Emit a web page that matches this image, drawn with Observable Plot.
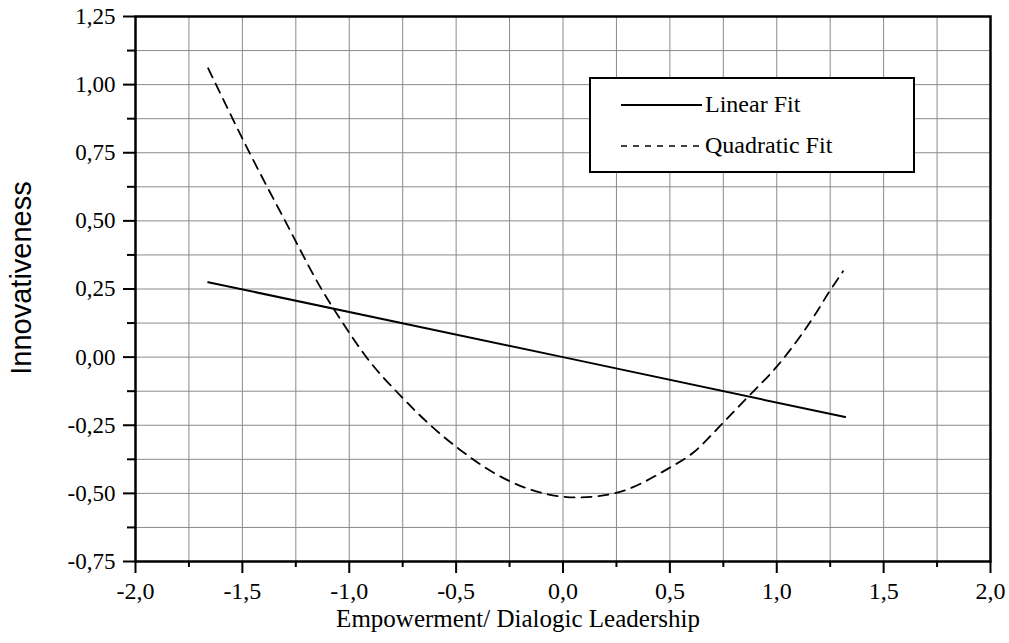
<!DOCTYPE html>
<html>
<head>
<meta charset="utf-8">
<script src="https://cdn.jsdelivr.net/npm/d3@7"></script>
<script src="https://cdn.jsdelivr.net/npm/@observablehq/plot@0.6"></script>
<style>
  body { margin: 0; background: #fff; }
  #wrap { position: relative; width: 1009px; height: 643px; overflow: hidden; }
  #wrap svg text { font-family: "Liberation Serif", serif !important; font-variant-numeric: normal !important; }
  .lbl { position: absolute; white-space: nowrap; color: #000; }
</style>
</head>
<body>
<div id="wrap"></div>
<script>
// ---- data ----
const xMajorTicks = [-2, -1.5, -1, -0.5, 0, 0.5, 1, 1.5, 2];
const xMinorTicks = [-1.75, -1.25, -0.75, -0.25, 0.25, 0.75, 1.25, 1.75];
const yMajorTicks = [-0.75, -0.5, -0.25, 0, 0.25, 0.5, 0.75, 1, 1.25];
const yMinorTicks = [-0.625, -0.375, -0.125, 0.125, 0.375, 0.625, 0.875, 1.125];
const xGridLines = [-1.75, -1.5, -1.25, -1, -0.75, -0.5, -0.25, 0, 0.25, 0.5, 0.75, 1, 1.25, 1.5, 1.75];
const yGridLines = [-0.625, -0.5, -0.375, -0.25, -0.125, 0, 0.125, 0.25, 0.375, 0.5, 0.625, 0.75, 0.875, 1, 1.125];

const linearX = [-1.66, 0, 1.32];
const linearY = [0.275, 0, -0.22];

const quadX = [-1.66, -1.46, -1.30, -1.13, -1.03, -0.92, -0.75, -0.62, -0.49, -0.25, -0.09, 0.07, 0.24, 0.49, 0.61, 0.75, 0.86, 1.00, 1.17, 1.25, 1.31];
const quadY = [1.06, 0.74, 0.50, 0.25, 0.125, 0.00, -0.15, -0.25, -0.335, -0.455, -0.50, -0.515, -0.50, -0.41, -0.35, -0.24, -0.15, -0.035, 0.145, 0.245, 0.315];

const xLabel = "Empowerment/ Dialogic Leadership";
const yLabel = "Innovativeness";
const seriesNames = ["Linear Fit", "Quadratic Fit"];

// ---- build ----
const linear = linearX.map((x, i) => ({x, y: linearY[i]}));
const quad = quadX.map((x, i) => ({x, y: quadY[i]}));
const fmtX = d => d.toFixed(1).replace(".", ",");
const fmtY = d => d.toFixed(2).replace(".", ",");
const serif = "Liberation Serif";

const chart = Plot.plot({
  width: 1009,
  height: 643,
  marginLeft: 135,
  marginRight: 19,
  marginTop: 16,
  marginBottom: 82,
  x: {domain: [-2, 2], label: null},
  y: {domain: [-0.75, 1.25], label: null},
  style: {fontFamily: serif, fontSize: "24px", background: "#fff", color: "#000"},
  marks: [
    Plot.gridX(xGridLines, {stroke: "#8a8a8a", strokeOpacity: 1, strokeWidth: 1}),
    Plot.gridY(yGridLines, {stroke: "#8a8a8a", strokeOpacity: 1, strokeWidth: 1}),
    Plot.axisX({ticks: xMinorTicks, tickSize: 6, tickFormat: () => "", strokeWidth: 2}),
    Plot.axisX({ticks: xMajorTicks, tickSize: 12, tickPadding: 8, tickFormat: fmtX, fontSize: 24, fontFamily: serif, fontVariant: "normal", strokeWidth: 2, label: null}),
    Plot.axisY({ticks: yMinorTicks, tickSize: 8, tickFormat: () => "", strokeWidth: 2}),
    Plot.axisY({ticks: yMajorTicks, tickSize: 12, tickPadding: 8, tickFormat: fmtY, fontSize: 23, fontFamily: serif, fontVariant: "normal", strokeWidth: 2, label: null}),
    Plot.line(linear, {x: "x", y: "y", stroke: "#000", strokeWidth: 2}),
    Plot.line(quad, {x: "x", y: "y", stroke: "#000", strokeWidth: 1.8, strokeDasharray: "10,7", curve: "monotone-x"}),
    Plot.frame({stroke: "#000", strokeWidth: 2.5})
  ]
});

const wrap = document.getElementById("wrap");
wrap.appendChild(chart);

// x label
const xl = document.createElement("div");
xl.className = "lbl";
xl.textContent = xLabel;
xl.style.cssText += `font-family:${serif};font-size:25px;left:518px;top:606px;transform:translateX(-50%);line-height:1;`;
wrap.appendChild(xl);

// y label
const yl = document.createElement("div");
yl.className = "lbl";
yl.textContent = yLabel;
yl.style.cssText += `font-family:'Liberation Sans', Arial, sans-serif;font-size:29px;left:21px;top:278px;transform:translate(-50%,-50%) rotate(-90deg);line-height:1;`;
wrap.appendChild(yl);

// legend
const ns = "http://www.w3.org/2000/svg";
const leg = document.createElementNS(ns, "svg");
leg.setAttribute("width", 326);
leg.setAttribute("height", 96);
leg.style.cssText = "position:absolute;left:589px;top:77px;";
const box = document.createElementNS(ns, "rect");
box.setAttribute("x", 1); box.setAttribute("y", 1);
box.setAttribute("width", 324); box.setAttribute("height", 94);
box.setAttribute("fill", "#fff"); box.setAttribute("stroke", "#000"); box.setAttribute("stroke-width", 2);
leg.appendChild(box);
const rows = [{y: 28, dash: null, w: 1.8}, {y: 69, dash: "6,6", w: 1.5}];
rows.forEach((r, i) => {
  const ln = document.createElementNS(ns, "line");
  ln.setAttribute("x1", 32); ln.setAttribute("x2", 113);
  ln.setAttribute("y1", r.y); ln.setAttribute("y2", r.y);
  ln.setAttribute("stroke", "#000"); ln.setAttribute("stroke-width", r.w);
  if (r.dash) ln.setAttribute("stroke-dasharray", r.dash);
  leg.appendChild(ln);
  const t = document.createElementNS(ns, "text");
  t.setAttribute("x", 116); t.setAttribute("y", r.y + 7);
  t.setAttribute("font-family", serif); t.setAttribute("font-size", 24);
  t.textContent = seriesNames[i];
  leg.appendChild(t);
});
wrap.appendChild(leg);
</script>
</body>
</html>
